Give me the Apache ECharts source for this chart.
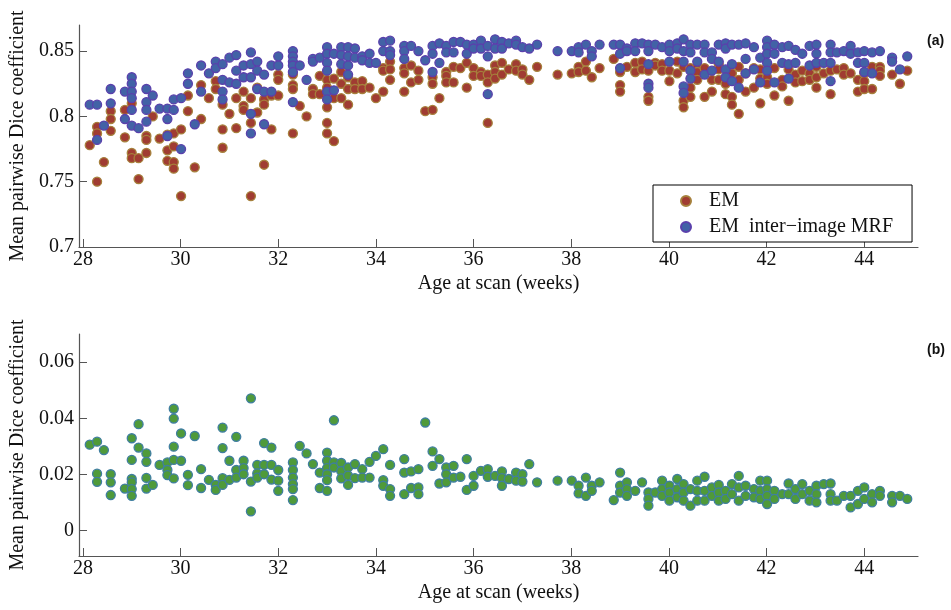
<!DOCTYPE html>
<html>
<head>
<meta charset="utf-8">
<script src="https://cdn.jsdelivr.net/npm/echarts@6/dist/echarts.min.js"></script>
<style>
  html, body { margin: 0; padding: 0; background: #fff; }
  #chart { width: 951px; height: 610px; }
</style>
</head>
<body>
<div id="chart"></div>
<script>
// tick positions
const xTicks = [28, 30, 32, 34, 36, 38, 40, 42, 44]
const yTicksTop = [0.7, 0.75, 0.8, 0.85]
const yTicksBottom = [0, 0.02, 0.04, 0.06]

// panel (a): EM, [age, mean pairwise Dice]
const emPoints = [
  [28.14,0.778],[28.29,0.792],[28.29,0.787],[28.29,0.750],[28.43,0.765],[28.57,0.804],[28.57,0.798],[28.57,0.789],
  [28.86,0.805],[28.86,0.784],[29.0,0.810],[29.0,0.772],[29.0,0.768],[29.14,0.768],[29.14,0.752],[29.3,0.785],
  [29.3,0.782],[29.3,0.772],[29.43,0.800],[29.57,0.783],[29.73,0.786],[29.73,0.774],[29.73,0.766],[29.86,0.787],
  [29.86,0.777],[29.86,0.765],[29.86,0.760],[30.01,0.790],[30.01,0.739],[30.15,0.816],[30.15,0.804],[30.29,0.761],
  [30.42,0.824],[30.42,0.798],[30.58,0.814],[30.72,0.827],[30.72,0.821],[30.86,0.809],[30.86,0.790],[30.86,0.776],
  [31.0,0.802],[31.14,0.814],[31.14,0.791],[31.29,0.819],[31.29,0.808],[31.29,0.805],[31.44,0.814],[31.44,0.795],
  [31.44,0.739],[31.57,0.822],[31.57,0.803],[31.71,0.813],[31.71,0.809],[31.71,0.763],[31.86,0.816],[31.86,0.790],
  [32.0,0.832],[32.0,0.828],[32.0,0.816],[32.3,0.832],[32.3,0.824],[32.3,0.821],[32.3,0.787],[32.44,0.808],
  [32.58,0.800],[32.71,0.821],[32.71,0.817],[32.85,0.831],[32.85,0.817],[33.0,0.828],[33.0,0.822],[33.0,0.807],
  [33.0,0.795],[33.0,0.787],[33.14,0.829],[33.14,0.814],[33.14,0.781],[33.29,0.834],[33.29,0.825],[33.29,0.814],
  [33.43,0.830],[33.43,0.821],[33.43,0.809],[33.57,0.826],[33.57,0.821],[33.72,0.827],[33.72,0.821],[33.87,0.822],
  [34.0,0.814],[34.15,0.837],[34.15,0.835],[34.15,0.819],[34.29,0.842],[34.29,0.836],[34.29,0.828],[34.58,0.837],
  [34.58,0.833],[34.58,0.819],[34.72,0.839],[34.72,0.826],[34.87,0.835],[34.87,0.828],[35.01,0.804],[35.16,0.805],
  [35.16,0.830],[35.16,0.825],[35.3,0.814],[35.44,0.834],[35.44,0.831],[35.44,0.826],[35.59,0.838],[35.59,0.826],
  [35.73,0.837],[35.86,0.841],[35.86,0.822],[36.0,0.837],[36.0,0.831],[36.15,0.834],[36.15,0.831],[36.29,0.832],
  [36.29,0.826],[36.29,0.795],[36.44,0.839],[36.44,0.834],[36.44,0.829],[36.58,0.841],[36.58,0.832],[36.72,0.836],
  [36.87,0.840],[36.87,0.835],[37.0,0.836],[37.0,0.832],[37.14,0.828],[37.3,0.838],[37.72,0.832],[38.01,0.833],
  [38.15,0.838],[38.15,0.834],[38.3,0.842],[38.3,0.835],[38.42,0.830],[38.58,0.837],[38.87,0.844],[39.0,0.834],
  [39.0,0.824],[39.0,0.819],[39.14,0.838],[39.31,0.841],[39.31,0.834],[39.45,0.842],[39.45,0.836],[39.58,0.835],
  [39.58,0.815],[39.58,0.812],[39.72,0.841],[39.72,0.839],[39.86,0.840],[39.86,0.835],[40.01,0.835],[40.01,0.827],
  [40.17,0.842],[40.17,0.833],[40.3,0.838],[40.3,0.812],[40.3,0.807],[40.44,0.837],[40.44,0.822],[40.44,0.815],
  [40.58,0.838],[40.58,0.834],[40.58,0.828],[40.73,0.837],[40.73,0.815],[40.88,0.828],[40.88,0.819],[41.02,0.840],
  [41.02,0.836],[41.02,0.828],[41.16,0.825],[41.16,0.817],[41.29,0.833],[41.29,0.815],[41.29,0.809],[41.43,0.838],
  [41.43,0.828],[41.43,0.802],[41.57,0.833],[41.57,0.819],[41.74,0.837],[41.74,0.822],[41.87,0.836],[41.87,0.829],
  [41.87,0.810],[42.01,0.830],[42.01,0.825],[42.16,0.837],[42.16,0.816],[42.32,0.828],[42.32,0.823],[42.45,0.836],
  [42.45,0.812],[42.59,0.832],[42.59,0.826],[42.73,0.835],[42.73,0.827],[42.88,0.833],[42.88,0.828],[43.02,0.838],
  [43.02,0.830],[43.02,0.822],[43.17,0.833],[43.31,0.835],[43.31,0.817],[43.44,0.836],[43.58,0.837],[43.58,0.832],
  [43.72,0.833],[43.87,0.828],[43.87,0.819],[44.0,0.833],[44.0,0.827],[44.0,0.821],[44.16,0.838],[44.16,0.821],
  [44.32,0.838],[44.32,0.835],[44.32,0.831],[44.57,0.832],[44.73,0.825],[44.88,0.835]
]

// panel (a): EM inter-image MRF
const mrfPoints = [
  [28.14,0.809],[28.29,0.809],[28.29,0.782],[28.43,0.793],[28.57,0.821],[28.57,0.810],[28.86,0.819],[28.86,0.798],
  [29.0,0.830],[29.0,0.825],[29.0,0.819],[29.0,0.814],[29.0,0.805],[29.0,0.793],[29.14,0.791],[29.3,0.821],
  [29.3,0.811],[29.3,0.805],[29.3,0.796],[29.43,0.816],[29.57,0.806],[29.73,0.806],[29.73,0.798],[29.73,0.785],
  [29.86,0.813],[29.86,0.805],[30.01,0.814],[30.01,0.775],[30.15,0.833],[30.15,0.825],[30.29,0.794],[30.42,0.839],
  [30.42,0.819],[30.58,0.833],[30.72,0.842],[30.72,0.837],[30.86,0.840],[30.86,0.828],[30.86,0.819],[30.86,0.813],
  [31.0,0.845],[31.0,0.826],[31.14,0.847],[31.14,0.835],[31.14,0.825],[31.29,0.839],[31.29,0.830],[31.44,0.849],
  [31.44,0.840],[31.44,0.830],[31.44,0.802],[31.44,0.787],[31.57,0.842],[31.57,0.835],[31.57,0.821],[31.71,0.832],
  [31.71,0.819],[31.71,0.794],[31.86,0.839],[31.86,0.819],[32.0,0.846],[32.0,0.839],[32.3,0.850],[32.3,0.846],
  [32.3,0.842],[32.3,0.839],[32.3,0.834],[32.3,0.811],[32.44,0.839],[32.58,0.828],[32.71,0.844],[32.71,0.842],
  [32.85,0.845],[33.0,0.853],[33.0,0.848],[33.0,0.841],[33.0,0.835],[33.0,0.819],[33.0,0.813],[33.14,0.848],
  [33.14,0.820],[33.29,0.853],[33.29,0.847],[33.29,0.840],[33.43,0.853],[33.43,0.846],[33.43,0.839],[33.43,0.832],
  [33.57,0.852],[33.57,0.845],[33.72,0.846],[33.72,0.843],[33.87,0.848],[33.87,0.841],[34.0,0.841],[34.15,0.857],
  [34.15,0.850],[34.29,0.858],[34.29,0.850],[34.29,0.847],[34.58,0.854],[34.58,0.850],[34.58,0.844],[34.72,0.854],
  [34.87,0.850],[35.01,0.843],[35.16,0.854],[35.16,0.848],[35.16,0.834],[35.3,0.856],[35.3,0.841],[35.44,0.854],
  [35.44,0.849],[35.59,0.857],[35.59,0.849],[35.73,0.857],[35.86,0.855],[35.86,0.848],[36.0,0.855],[36.0,0.852],
  [36.15,0.858],[36.15,0.852],[36.29,0.854],[36.29,0.846],[36.29,0.817],[36.44,0.859],[36.44,0.852],[36.58,0.857],
  [36.58,0.852],[36.72,0.856],[36.87,0.858],[36.87,0.855],[37.0,0.853],[37.14,0.852],[37.3,0.855],[37.72,0.850],
  [38.01,0.850],[38.15,0.853],[38.15,0.849],[38.3,0.855],[38.42,0.850],[38.42,0.846],[38.58,0.855],[38.87,0.855],
  [39.0,0.855],[39.0,0.848],[39.0,0.837],[39.14,0.852],[39.14,0.850],[39.31,0.856],[39.31,0.850],[39.45,0.856],
  [39.58,0.855],[39.58,0.850],[39.58,0.840],[39.58,0.825],[39.58,0.822],[39.72,0.855],[39.86,0.853],[40.01,0.855],
  [40.01,0.850],[40.01,0.842],[40.17,0.856],[40.17,0.852],[40.3,0.859],[40.3,0.850],[40.3,0.842],[40.3,0.823],
  [40.3,0.818],[40.44,0.855],[40.44,0.849],[40.44,0.835],[40.44,0.829],[40.58,0.855],[40.58,0.842],[40.73,0.855],
  [40.73,0.849],[40.73,0.832],[40.88,0.849],[40.88,0.844],[40.88,0.835],[41.02,0.855],[41.02,0.842],[41.16,0.856],
  [41.16,0.852],[41.16,0.836],[41.16,0.830],[41.29,0.855],[41.29,0.840],[41.29,0.827],[41.43,0.855],[41.43,0.822],
  [41.57,0.856],[41.57,0.844],[41.57,0.833],[41.74,0.853],[41.74,0.836],[41.87,0.845],[41.87,0.826],[42.01,0.858],
  [42.01,0.853],[42.01,0.848],[42.01,0.841],[42.01,0.835],[42.16,0.855],[42.16,0.848],[42.16,0.826],[42.32,0.853],
  [42.32,0.841],[42.45,0.854],[42.45,0.840],[42.45,0.829],[42.59,0.851],[42.59,0.841],[42.73,0.848],[42.88,0.854],
  [42.88,0.839],[43.02,0.855],[43.02,0.848],[43.02,0.841],[43.17,0.841],[43.31,0.855],[43.31,0.849],[43.31,0.841],
  [43.31,0.827],[43.44,0.849],[43.58,0.850],[43.72,0.854],[43.72,0.848],[43.87,0.849],[43.87,0.841],[44.0,0.850],
  [44.0,0.841],[44.0,0.834],[44.16,0.849],[44.16,0.833],[44.32,0.850],[44.57,0.845],[44.57,0.842],[44.73,0.836],
  [44.88,0.846]
]

// panel (b): difference in mean pairwise Dice
const diffPoints = [
  [28.14,0.0306],[28.29,0.0317],[28.29,0.0203],[28.29,0.0174],[28.43,0.0287],[28.57,0.0201],[28.57,0.0172],[28.57,0.0127],
  [28.86,0.0150],[29.0,0.0329],[29.0,0.0252],[29.0,0.0184],[29.0,0.0172],[29.0,0.0148],[29.0,0.0124],[29.14,0.0379],
  [29.14,0.0296],[29.3,0.0275],[29.3,0.0245],[29.3,0.0188],[29.3,0.0150],[29.43,0.0163],[29.57,0.0234],[29.73,0.0243],
  [29.73,0.0216],[29.73,0.0198],[29.86,0.0434],[29.86,0.0399],[29.86,0.0299],[29.86,0.0252],[29.86,0.0186],[30.01,0.0346],
  [30.01,0.0249],[30.15,0.0199],[30.15,0.0162],[30.29,0.0337],[30.42,0.0219],[30.42,0.0152],[30.58,0.0181],[30.72,0.0163],
  [30.72,0.0145],[30.86,0.0367],[30.86,0.0294],[30.86,0.0187],[30.86,0.0163],[31.0,0.0249],[31.0,0.0181],[31.14,0.0334],
  [31.14,0.0216],[31.14,0.0189],[31.29,0.0249],[31.29,0.0223],[31.29,0.0201],[31.44,0.0471],[31.44,0.0175],[31.44,0.0069],
  [31.57,0.0234],[31.57,0.0204],[31.57,0.0189],[31.71,0.0312],[31.71,0.0234],[31.71,0.0201],[31.86,0.0296],[31.86,0.0234],
  [31.86,0.0182],[32.0,0.0216],[32.0,0.0178],[32.0,0.0142],[32.3,0.0243],[32.3,0.0216],[32.3,0.0189],[32.3,0.0166],
  [32.3,0.0148],[32.3,0.0109],[32.44,0.0302],[32.58,0.0275],[32.71,0.0237],[32.85,0.0207],[32.85,0.0152],[33.0,0.0278],
  [33.0,0.0249],[33.0,0.0223],[33.0,0.0201],[33.0,0.0180],[33.0,0.0142],[33.14,0.0393],[33.14,0.0243],[33.14,0.0225],
  [33.29,0.0241],[33.29,0.0212],[33.29,0.0186],[33.43,0.0225],[33.43,0.0196],[33.43,0.0163],[33.57,0.0237],[33.57,0.0187],
  [33.72,0.0219],[33.72,0.0189],[33.87,0.0245],[33.87,0.0189],[34.0,0.0266],[34.15,0.0290],[34.15,0.0180],[34.15,0.0160],
  [34.29,0.0234],[34.29,0.0148],[34.29,0.0124],[34.58,0.0255],[34.58,0.0207],[34.58,0.0130],[34.72,0.0211],[34.72,0.0152],
  [34.87,0.0219],[34.87,0.0154],[34.87,0.0130],[35.01,0.0385],[35.16,0.0282],[35.16,0.0231],[35.3,0.0255],[35.3,0.0168],
  [35.44,0.0225],[35.44,0.0201],[35.44,0.0172],[35.59,0.0231],[35.59,0.0189],[35.73,0.0192],[35.86,0.0255],[35.86,0.0145],
  [36.0,0.0195],[36.0,0.0160],[36.15,0.0213],[36.29,0.0219],[36.29,0.0192],[36.44,0.0195],[36.58,0.0211],[36.58,0.0187],
  [36.58,0.0160],[36.72,0.0184],[36.87,0.0207],[36.87,0.0178],[37.0,0.0201],[37.0,0.0175],[37.14,0.0237],[37.3,0.0172],
  [37.72,0.0178],[38.01,0.0178],[38.15,0.0160],[38.15,0.0133],[38.3,0.0189],[38.3,0.0124],[38.42,0.0160],[38.42,0.0142],
  [38.58,0.0172],[38.87,0.0109],[39.0,0.0207],[39.0,0.0160],[39.0,0.0136],[39.14,0.0172],[39.14,0.0148],[39.14,0.0124],
  [39.31,0.0142],[39.45,0.0172],[39.58,0.0136],[39.58,0.0113],[39.58,0.0089],[39.72,0.0136],[39.86,0.0178],[39.86,0.0148],
  [39.86,0.0124],[40.01,0.0160],[40.01,0.0136],[40.01,0.0107],[40.17,0.0184],[40.17,0.0148],[40.17,0.0119],[40.3,0.0166],
  [40.3,0.0136],[40.3,0.0107],[40.44,0.0148],[40.44,0.0089],[40.58,0.0178],[40.58,0.0142],[40.58,0.0107],[40.73,0.0192],
  [40.73,0.0142],[40.73,0.0107],[40.88,0.0154],[40.88,0.0124],[41.02,0.0163],[41.02,0.0136],[41.02,0.0107],[41.16,0.0142],
  [41.16,0.0113],[41.29,0.0166],[41.29,0.0130],[41.43,0.0195],[41.43,0.0154],[41.43,0.0107],[41.57,0.0160],[41.57,0.0124],
  [41.74,0.0148],[41.74,0.0119],[41.87,0.0178],[41.87,0.0142],[41.87,0.0113],[42.01,0.0178],[42.01,0.0148],[42.01,0.0124],
  [42.01,0.0095],[42.16,0.0142],[42.16,0.0113],[42.32,0.0130],[42.45,0.0168],[42.45,0.0130],[42.59,0.0148],[42.59,0.0113],
  [42.73,0.0166],[42.73,0.0130],[42.88,0.0142],[42.88,0.0107],[43.02,0.0160],[43.02,0.0130],[43.02,0.0101],[43.17,0.0166],
  [43.31,0.0168],[43.31,0.0130],[43.31,0.0107],[43.44,0.0107],[43.58,0.0124],[43.72,0.0124],[43.72,0.0083],[43.87,0.0142],
  [43.87,0.0095],[44.0,0.0154],[44.0,0.0113],[44.16,0.0130],[44.16,0.0101],[44.32,0.0142],[44.32,0.0124],[44.57,0.0124],
  [44.57,0.0101],[44.73,0.0124],[44.88,0.0113]
]

const serif = 'Liberation Serif'
const axisColor = '#555'

function xAxisFor (gridIndex) {
  return {
    type: 'value',
    gridIndex,
    min: 27.92,
    max: 45.1,
    name: 'Age at scan (weeks)',
    nameLocation: 'middle',
    nameGap: 27,
    nameTextStyle: { fontFamily: serif, fontSize: 20, color: '#111' },
    axisLine: { onZero: false, lineStyle: { color: axisColor, width: 1.2 } },
    axisTick: { inside: true, length: 8, customValues: xTicks, lineStyle: { color: axisColor } },
    axisLabel: { customValues: xTicks, margin: 3, fontFamily: serif, fontSize: 20, color: '#111' },
    splitLine: { show: false }
  }
}

function yAxisFor (gridIndex, min, max, ticks) {
  return {
    type: 'value',
    gridIndex,
    min,
    max,
    name: 'Mean pairwise Dice coefficient',
    nameLocation: 'middle',
    nameGap: 51,
    nameTextStyle: { fontFamily: serif, fontSize: 20, color: '#111' },
    axisLine: { onZero: false, lineStyle: { color: axisColor, width: 1.2 } },
    axisTick: { inside: true, length: 8, customValues: ticks, lineStyle: { color: axisColor } },
    axisLabel: { customValues: ticks, margin: 5, fontFamily: serif, fontSize: 20, color: '#111' },
    splitLine: { show: false }
  }
}

const myChart = echarts.init(document.getElementById('chart'), null, { renderer: 'canvas' })

const options = {
  animation: false,
  backgroundColor: '#fff',
  title: [
    { text: '(a)', left: 927, top: 34, padding: 0, textStyle: { fontFamily: 'Liberation Sans', fontWeight: 'bold', fontSize: 14, color: '#111' } },
    { text: '(b)', left: 927, top: 343, padding: 0, textStyle: { fontFamily: 'Liberation Sans', fontWeight: 'bold', fontSize: 14, color: '#111' } }
  ],
  legend: {
    orient: 'vertical',
    left: 653,
    top: 185,
    padding: [5, 19, 4, 27],
    itemGap: 4,
    itemWidth: 10,
    itemHeight: 10,
    backgroundColor: '#fff',
    borderColor: '#000',
    borderWidth: 1,
    borderRadius: 0,
    textStyle: { fontFamily: serif, fontSize: 20, color: '#111', padding: [0, 0, 0, 13], lineHeight: 22 },
    data: ['EM', 'EM  inter\u2212image MRF']
  },
  grid: [
    { left: 79, top: 25, width: 839, height: 222 },
    { left: 79, top: 334, width: 839, height: 222 }
  ],
  xAxis: [xAxisFor(0), xAxisFor(1)],
  yAxis: [
    yAxisFor(0, 0.7, 0.87, yTicksTop),
    yAxisFor(1, -0.009, 0.07, yTicksBottom)
  ],
  series: [
    {
      name: 'EM',
      type: 'scatter',
      xAxisIndex: 0,
      yAxisIndex: 0,
      symbolSize: 9,
      itemStyle: { color: '#a03c32', borderColor: '#a6803c', borderWidth: 1.3, opacity: 1 },
      data: emPoints
    },
    {
      name: 'EM  inter\u2212image MRF',
      type: 'scatter',
      xAxisIndex: 0,
      yAxisIndex: 0,
      symbolSize: 9,
      itemStyle: { color: '#4262a6', borderColor: '#5a40ac', borderWidth: 1.3, opacity: 1 },
      data: mrfPoints
    },
    {
      name: 'difference',
      type: 'scatter',
      xAxisIndex: 1,
      yAxisIndex: 1,
      symbolSize: 9,
      itemStyle: { color: '#4f9a3a', borderColor: '#3f7ea0', borderWidth: 1.3, opacity: 1 },
      data: diffPoints
    }
  ]
}

myChart.setOption(options)
</script>
</body>
</html>
